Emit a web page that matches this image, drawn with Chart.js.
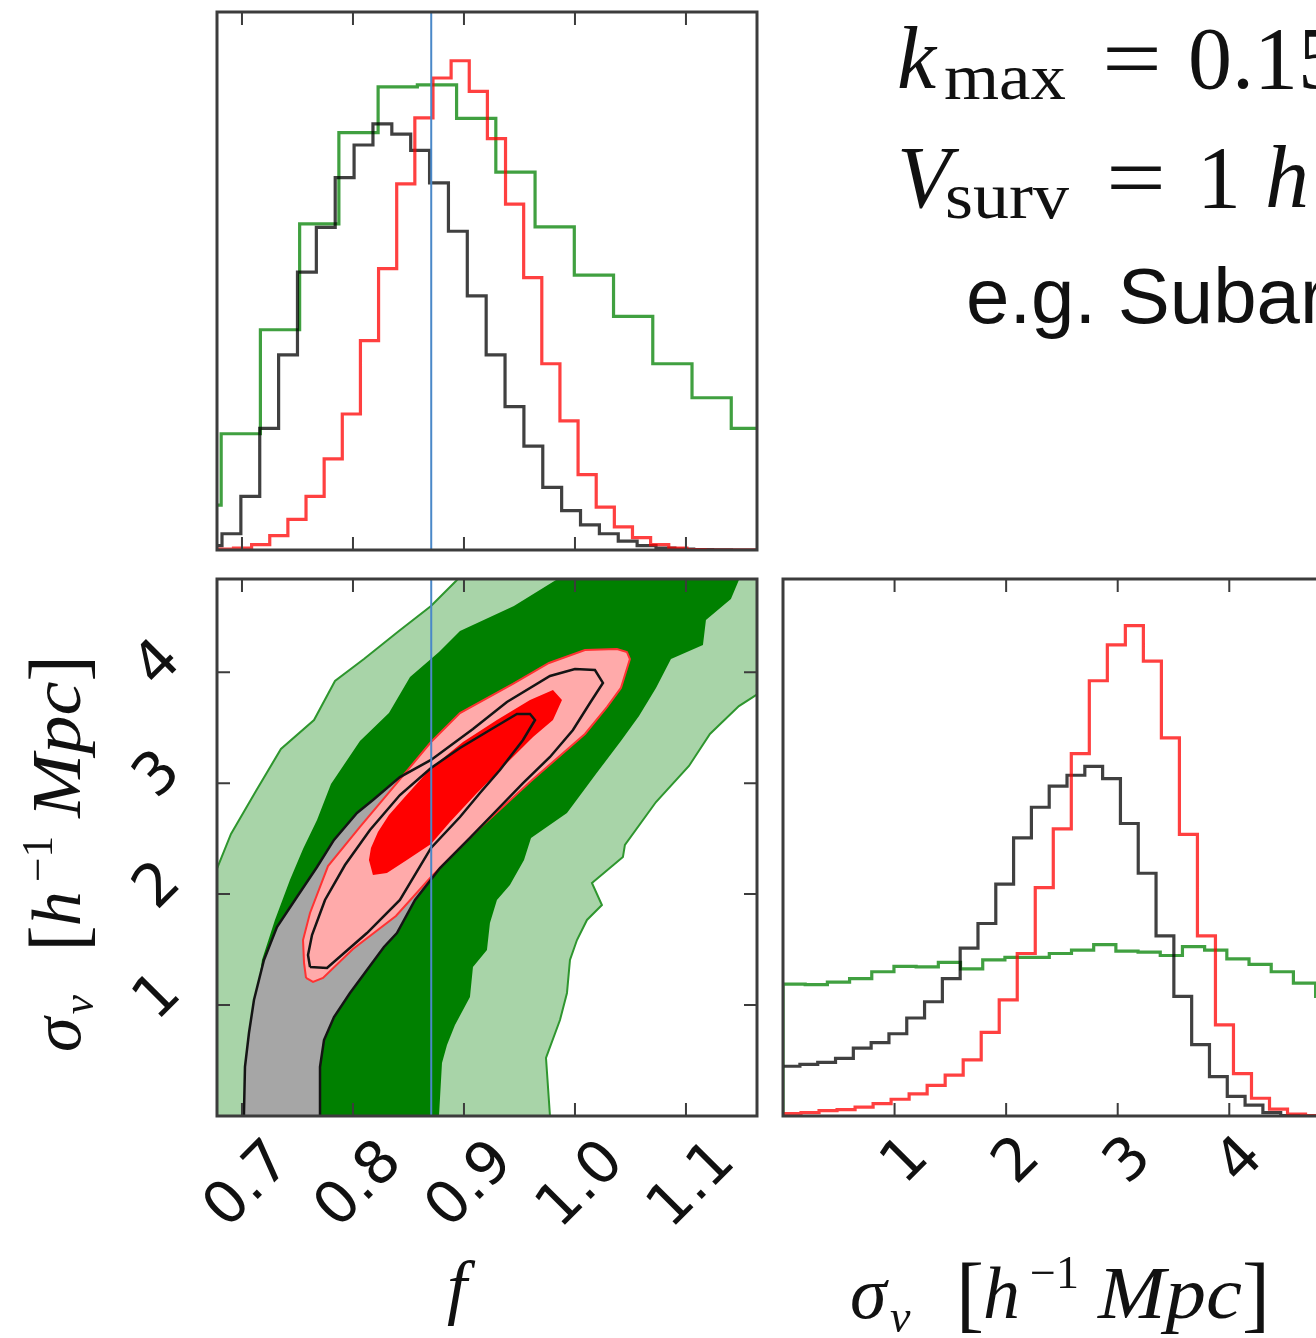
<!DOCTYPE html>
<html>
<head>
<meta charset="utf-8">
<script src="https://cdn.jsdelivr.net/npm/chart.js@4.4.1/dist/chart.umd.min.js"></script>
<style>
  html, body { margin: 0; padding: 0; background: #fff; overflow: hidden; width: 1316px; height: 1338px; }
  canvas { position: absolute; }
  svg { position: absolute; left: 0; top: 0; }
</style>
</head>
<body>
<canvas id="histF" width="650" height="600" style="left:150px;top:0px"></canvas>
<canvas id="contour" width="700" height="778" style="left:100px;top:560px"></canvas>
<canvas id="histS" width="600" height="778" style="left:760px;top:560px"></canvas>

<svg width="1316" height="1338">
  <g font-family="'Liberation Serif', serif" fill="#111">
    <text x="897" y="88" font-size="88" font-style="italic">k</text>
    <text x="944" y="99" font-size="66" textLength="122" lengthAdjust="spacingAndGlyphs">max</text>
    <text x="1102" y="88" font-size="88" textLength="60" lengthAdjust="spacingAndGlyphs">=</text>
    <text x="1188" y="88" font-size="88">0.15 h Mpc</text>

    <text x="897" y="207" font-size="88" font-style="italic">V</text>
    <text x="945" y="218" font-size="66" textLength="124" lengthAdjust="spacingAndGlyphs">surv</text>
    <text x="1106" y="207" font-size="88" textLength="60" lengthAdjust="spacingAndGlyphs">=</text>
    <text x="1197" y="207" font-size="88">1</text>
    <text x="1265" y="207" font-size="88" font-style="italic">h</text>
  </g>
  <text x="966" y="323" font-size="78" font-family="'Liberation Sans', Arial, sans-serif" fill="#111">e.g. Subaru PFS</text>

  <!-- axis titles -->
  <text x="457" y="1311" font-size="72" font-style="italic" text-anchor="middle"
        font-family="'Liberation Serif', serif" fill="#111">f</text>
  <g font-family="'Liberation Serif', serif" fill="#111" transform="translate(850,1318)">
    <text x="0" y="0" font-size="74" font-style="italic">σ</text>
    <text x="40" y="14" font-size="46" font-style="italic">v</text>
    <text x="106" y="4" font-size="84">[</text>
    <text x="133" y="0" font-size="74" font-style="italic">h</text>
    <text x="180" y="-30" font-size="46">−1</text>
    <text x="248" y="0" font-size="74" font-style="italic" textLength="144" lengthAdjust="spacingAndGlyphs">Mpc</text>
    <text x="392" y="4" font-size="84">]</text>
  </g>
  <g font-family="'Liberation Serif', serif" fill="#111" transform="translate(80,1052) rotate(-90) scale(0.945)">
    <text x="0" y="0" font-size="74" font-style="italic">σ</text>
    <text x="40" y="14" font-size="46" font-style="italic">v</text>
    <text x="106" y="4" font-size="84">[</text>
    <text x="133" y="0" font-size="74" font-style="italic">h</text>
    <text x="180" y="-30" font-size="46">−1</text>
    <text x="248" y="0" font-size="74" font-style="italic" textLength="144" lengthAdjust="spacingAndGlyphs">Mpc</text>
    <text x="392" y="4" font-size="84">]</text>
  </g>
</svg>

<script>
// ---- axes ----
const fTicks = [0.7, 0.8, 0.9, 1.0, 1.1];
const fTickLabels = ['0.7', '0.8', '0.9', '1.0', '1.1'];
const sigmaTicks = [1, 2, 3, 4];
const sigmaTickLabels = ['1', '2', '3', '4'];
const fRange = [0.6775, 1.164];
const sigmaRange = [0, 4.84];
const fHistMax = 1.092;
const sigmaHistMax = 1.0906;
const fFiducial = 0.8705;

// ---- 1D histograms of f (first bin edge, bin width, heights) ----
const fGreenStart = 0.6459, fGreenWidth = 0.03535;
const fGreen = [0.091, 0.236, 0.447, 0.662, 0.847, 0.940, 0.944, 0.876, 0.767, 0.656, 0.558, 0.474, 0.378, 0.309, 0.247];
const fBlackStart = 0.665, fBlackWidth = 0.0170;
const fBlack = [0.009, 0.033, 0.109, 0.247, 0.396, 0.564, 0.655, 0.756, 0.822, 0.865, 0.844, 0.811, 0.745, 0.647, 0.516,
                0.396, 0.291, 0.211, 0.127, 0.080, 0.051, 0.033, 0.018, 0.009, 0.004, 0.002, 0.001, 0.0005, 0, 0, 0];
const fRedStart = 0.6760, fRedWidth = 0.01634;
const fRed = [0.002, 0.004, 0.011, 0.029, 0.062, 0.109, 0.185, 0.276, 0.425, 0.571, 0.743, 0.877, 0.958, 0.993, 0.931,
              0.835, 0.702, 0.553, 0.378, 0.262, 0.153, 0.087, 0.047, 0.025, 0.011, 0.004, 0.001, 0, 0, 0];

// ---- 1D histograms of sigma_v ----
const sGreenStart = 0.0, sGreenWidth = 0.1989;
const sGreen = [0.268, 0.267, 0.272, 0.279, 0.293, 0.304, 0.303, 0.312, 0.299, 0.317, 0.322, 0.322, 0.330, 0.337, 0.348,
                0.335, 0.333, 0.326, 0.344, 0.337, 0.319, 0.308, 0.293, 0.270, 0.243];
const sBlackStart = -0.008, sBlackWidth = 0.1596;
const sBlack = [0.101, 0.105, 0.109, 0.117, 0.138, 0.149, 0.167, 0.199, 0.232, 0.279, 0.341, 0.391, 0.471, 0.565, 0.627,
                0.670, 0.692, 0.710, 0.685, 0.594, 0.493, 0.366, 0.243, 0.145, 0.080, 0.040, 0.022, 0.007, 0.001, 0, 0];
const sRedStart = 0.0, sRedWidth = 0.1615;
const sRed = [0.005, 0.007, 0.011, 0.013, 0.018, 0.025, 0.034, 0.045, 0.062, 0.083, 0.114, 0.170, 0.236, 0.330, 0.464,
              0.583, 0.736, 0.884, 0.957, 0.996, 0.924, 0.768, 0.572, 0.366, 0.185, 0.086, 0.036, 0.014, 0.004, 0.001];

// ---- 2D contours (f, sigma_v) ----
const greenOuter = [[0.6667,-0.126],[0.6667,1.947],[0.6784,2.253],[0.6901,2.542],[0.7126,2.929],[0.7351,3.308],[0.7649,3.569],
  [0.7838,3.921],[0.8099,4.119],[0.8414,4.371],[0.8703,4.597],[0.8928,4.822],[0.9099,5.011],[1.1847,5.011],[1.1847,3.930],
  [1.1631,3.794],[1.1477,3.695],[1.1216,3.443],[1.1027,3.155],[1.0730,2.830],[1.0450,2.443],[1.0432,2.334],[1.0153,2.100],
  [1.0243,1.902],[1.0108,1.767],[1.0018,1.586],[0.9955,1.406],[0.9928,1.109],[0.9865,0.865],[0.9739,0.523],[0.9775,0.000],
  [0.9775,-0.126]];
const greenInner = [[0.7342,-0.081],[0.7180,0.685],[0.7144,1.136],[0.7180,1.406],[0.7297,1.767],[0.7432,2.127],[0.7550,2.406],
  [0.7676,2.668],[0.7802,2.992],[0.8063,3.380],[0.8324,3.632],[0.8514,3.957],[0.8775,4.182],[0.8964,4.371],[0.9450,4.597],
  [0.9829,4.831],[0.9910,5.011],[1.1532,5.011],[1.1477,4.831],[1.1405,4.660],[1.1180,4.470],[1.1153,4.245],[1.0865,4.119],
  [1.0730,3.858],[1.0577,3.605],[1.0414,3.380],[1.0189,3.083],[0.9928,2.731],[0.9604,2.506],[0.9541,2.307],[0.9414,2.082],
  [0.9297,1.947],[0.9234,1.740],[0.9207,1.496],[0.9081,1.343],[0.9054,1.073],[0.8919,0.820],[0.8847,0.640],[0.8802,0.478],
  [0.8775,0.000],[0.8775,-0.081]];
const blackOuter = [[0.7018,-0.081],[0.7018,0.027],[0.7027,0.442],[0.7063,0.748],[0.7108,1.046],[0.7198,1.406],[0.7315,1.703],
  [0.7495,1.974],[0.7676,2.244],[0.7829,2.488],[0.8036,2.731],[0.8180,2.848],[0.8423,3.055],[0.8703,3.209],[0.9081,3.488],
  [0.9387,3.731],[0.9775,3.966],[1.0000,4.029],[1.0180,4.020],[1.0252,3.903],[1.0135,3.722],[0.9982,3.479],[0.9775,3.236],
  [0.9532,3.001],[0.9297,2.758],[0.9054,2.506],[0.8784,2.235],[0.8559,1.947],[0.8396,1.649],[0.8279,1.523],[0.8126,1.316],
  [0.7973,1.109],[0.7829,0.892],[0.7739,0.685],[0.7703,0.442],[0.7703,0.027],[0.7703,-0.081]];
const blackInner = [[0.7613,1.343],[0.7766,1.334],[0.8126,1.649],[0.8423,1.947],[0.8703,2.416],[0.8964,2.695],[0.9144,2.911],
  [0.9324,3.119],[0.9532,3.389],[0.9640,3.569],[0.9595,3.623],[0.9477,3.623],[0.9234,3.479],[0.8964,3.317],[0.8703,3.137],
  [0.8423,2.893],[0.8153,2.578],[0.7928,2.262],[0.7748,1.947],[0.7631,1.631],[0.7595,1.451],[0.7613,1.343]];
const redOuter = [[0.7577,1.244],[0.7559,1.379],[0.7550,1.586],[0.7613,1.830],[0.7775,2.253],[0.8063,2.605],[0.8387,2.992],
  [0.8703,3.371],[0.8964,3.632],[0.9441,3.894],[0.9766,4.083],[1.0090,4.200],[1.0378,4.209],[1.0468,4.182],[1.0495,4.119],
  [1.0414,3.858],[1.0288,3.686],[1.0090,3.443],[0.9604,3.019],[0.9153,2.605],[0.8703,2.154],[0.8387,1.803],[0.8000,1.505],
  [0.7730,1.244],[0.7640,1.208]];
const redInner = [[0.8180,2.172],[0.8144,2.307],[0.8162,2.416],[0.8225,2.560],[0.8324,2.713],[0.8459,2.866],[0.8703,3.137],
  [0.8991,3.371],[0.9297,3.569],[0.9595,3.749],[0.9802,3.840],[0.9883,3.749],[0.9802,3.569],[0.9622,3.416],[0.9387,3.182],
  [0.9117,2.911],[0.8874,2.650],[0.8703,2.452],[0.8486,2.307],[0.8306,2.190]];

// ---- helpers ----
function stepPoints(start, width, values) {
  const pts = [{x: start, y: 0}];
  values.forEach((v, i) => pts.push({x: start + i * width, y: v}));
  pts.push({x: start + values.length * width, y: 0});
  return pts;
}

function histLine(start, width, values, color) {
  return { data: stepPoints(start, width, values), stepped: true, borderColor: color, borderWidth: 3.2, fill: false };
}

function shape(points, fillColor, lineColor, lineWidth, closed) {
  const data = points.map(p => ({x: p[0], y: p[1]}));
  if (closed !== false) data.push({x: points[0][0], y: points[0][1]});
  return {
    data: data,
    fill: fillColor ? 'shape' : false,
    backgroundColor: fillColor || 'rgba(0,0,0,0)',
    borderColor: lineColor || 'rgba(0,0,0,0)',
    borderWidth: lineColor ? lineWidth : 0
  };
}

function vline(x, y0, y1) {
  return { data: [{x: x, y: y0}, {x: x, y: y1}], borderColor: '#4a88c8', borderWidth: 2, fill: false };
}

// first dataset in the list is drawn at the bottom
function layered(list) {
  return list.map((d, i) => Object.assign({ order: list.length - i, pointRadius: 0, tension: 0 }, d));
}

function drawRotated(ctx, text, x, y) {
  ctx.save();
  ctx.translate(x, y);
  ctx.rotate(-Math.PI / 4);
  ctx.fillText(text, 0, 0);
  ctx.restore();
}

// matplotlib-like frame with inward ticks and 45 degree tick labels
function axesPlugin(cfg) {
  return {
    id: 'mplAxes',
    afterDraw(chart) {
      const ctx = chart.ctx, a = chart.chartArea;
      const sx = chart.scales.x, sy = chart.scales.y;
      ctx.save();
      ctx.strokeStyle = '#3c3c3c';
      ctx.lineWidth = 2;
      ctx.beginPath();
      (cfg.xTicks || []).forEach(v => {
        const p = sx.getPixelForValue(v);
        ctx.moveTo(p, a.top); ctx.lineTo(p, a.top + 13);
        ctx.moveTo(p, a.bottom); ctx.lineTo(p, a.bottom - 13);
      });
      (cfg.yTicks || []).forEach(v => {
        const p = sy.getPixelForValue(v);
        ctx.moveTo(a.left, p); ctx.lineTo(a.left + 13, p);
        ctx.moveTo(a.right, p); ctx.lineTo(a.right - 13, p);
      });
      ctx.stroke();
      ctx.lineWidth = 3;
      ctx.strokeRect(a.left, a.top, a.right - a.left, a.bottom - a.top);

      ctx.fillStyle = '#111';
      ctx.font = '59px "DejaVu Sans"';
      ctx.textAlign = 'center';
      ctx.textBaseline = 'middle';
      if (cfg.xLabels) {
        cfg.xTicks.forEach((v, i) => drawRotated(ctx, cfg.xLabels[i], sx.getPixelForValue(v) + cfg.xDx, a.bottom + cfg.xDy));
      }
      if (cfg.yLabels) {
        cfg.yTicks.forEach((v, i) => drawRotated(ctx, cfg.yLabels[i], a.left + cfg.yDx, sy.getPixelForValue(v) + cfg.yDy));
      }
      ctx.restore();
    }
  };
}

function options(xr, yr, padding) {
  return {
    responsive: false,
    animation: false,
    events: [],
    layout: { padding: padding },
    plugins: { legend: { display: false }, tooltip: { enabled: false } },
    scales: {
      x: { type: 'linear', min: xr[0], max: xr[1], display: false },
      y: { type: 'linear', min: yr[0], max: yr[1], display: false }
    }
  };
}

// ---- top: histogram of f ----
new Chart(document.getElementById('histF'), {
  type: 'line',
  data: { datasets: layered([
    histLine(fGreenStart, fGreenWidth, fGreen, 'rgba(0,128,0,0.75)'),
    histLine(fBlackStart, fBlackWidth, fBlack, 'rgba(0,0,0,0.75)'),
    histLine(fRedStart, fRedWidth, fRed, 'rgba(255,0,0,0.75)'),
    vline(fFiducial, 0, fHistMax)
  ]) },
  options: options(fRange, [0, fHistMax], { left: 67, top: 12, right: 43, bottom: 50 }),
  plugins: [axesPlugin({ xTicks: fTicks })]
});

// ---- bottom left: 2D contours ----
new Chart(document.getElementById('contour'), {
  type: 'line',
  data: { datasets: layered([
    shape(greenOuter, 'rgb(168,212,168)', 'rgb(46,150,46)', 2),
    shape(greenInner, 'rgb(0,128,0)', null, 0),
    shape(blackOuter, 'rgb(166,166,166)', null, 0),
    shape(redOuter, 'rgb(255,170,170)', 'rgb(255,50,50)', 2),
    shape(redInner, 'rgb(255,0,0)', null, 0),
    shape(blackOuter, null, 'rgb(20,20,20)', 2.5, false),
    shape(blackInner, null, 'rgb(20,20,20)', 2.5, false),
    vline(fFiducial, sigmaRange[0], sigmaRange[1])
  ]) },
  options: options(fRange, sigmaRange, { left: 117, top: 19, right: 43, bottom: 222 }),
  plugins: [axesPlugin({ xTicks: fTicks, xLabels: fTickLabels, xDx: 7, xDy: 70,
                         yTicks: sigmaTicks, yLabels: sigmaTickLabels, yDx: -58, yDy: -7 })]
});

// ---- bottom right: histogram of sigma_v ----
new Chart(document.getElementById('histS'), {
  type: 'line',
  data: { datasets: layered([
    histLine(sGreenStart, sGreenWidth, sGreen, 'rgba(0,128,0,0.75)'),
    histLine(sBlackStart, sBlackWidth, sBlack, 'rgba(0,0,0,0.75)'),
    histLine(sRedStart, sRedWidth, sRed, 'rgba(255,0,0,0.75)')
  ]) },
  options: options(sigmaRange, [0, sigmaHistMax], { left: 23, top: 19, right: 37, bottom: 222 }),
  plugins: [axesPlugin({ xTicks: sigmaTicks, xLabels: sigmaTickLabels, xDx: 12, xDy: 46 })]
});
</script>
</body>
</html>
